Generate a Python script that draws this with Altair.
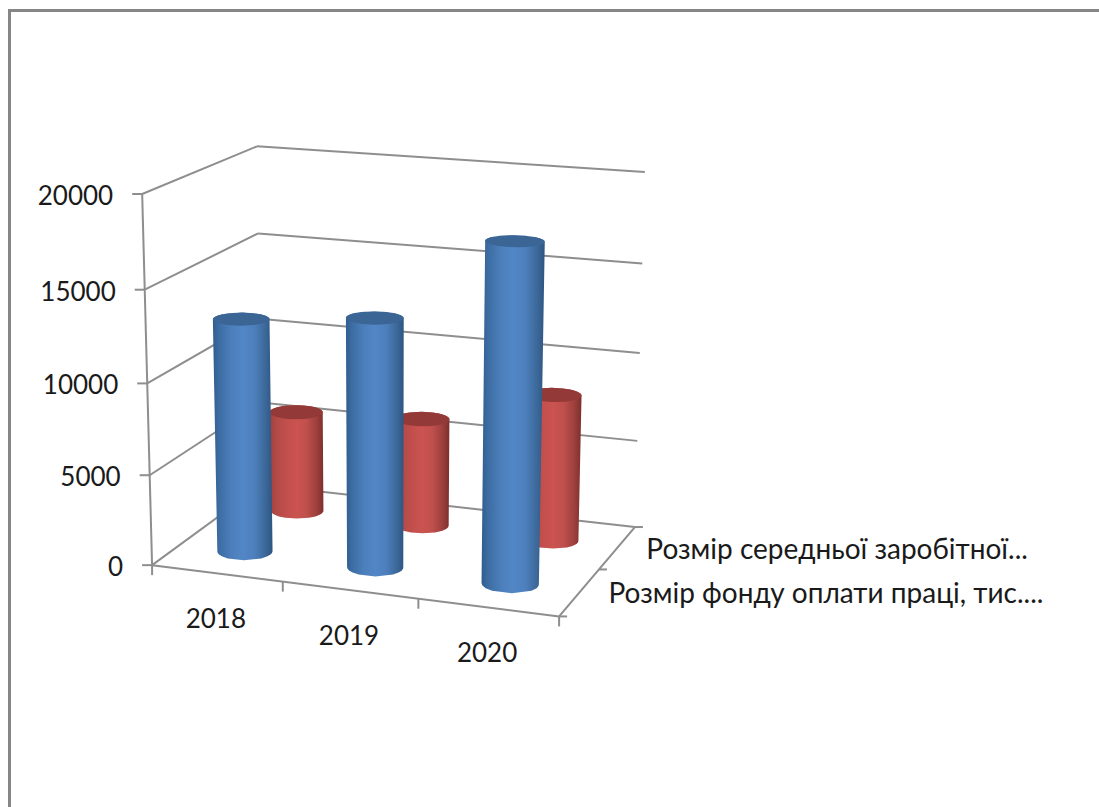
import altair as alt
import numpy as np
import pandas as pd

W, H = 1099, 807

# Chart values
years = ["2018", "2019", "2020"]
wage_fund = [12900, 13600, 18200]
avg_salary = [5800, 6150, 8250]
series_labels = ["Розмір фонду оплати праці, тис....", "Розмір середньої заробітної..."]
value_ticks = [0, 5000, 10000, 15000, 20000]
VMAX = 20000
FONT = "Lato"

# Camera: a projective map of the box (category, depth, value share) onto the page,
# solved from where the box edges should land.
box_anchors = [
    (0, 0, 0, 151, 566), (0, 0, .25, 150, 475), (0, 0, .5, 148, 382), (0, 0, .75, 146, 288), (0, 0, 1, 142, 195),
    (3, 0, 0, 558, 618),
    (0, 2, 0, 263, 486), (0, 2, .75, 258, 233), (0, 2, 1, 255, 147),
    (3, 2, 0, 634, 525), (3, 2, .25, 638, 441), (3, 2, .5, 640, 352), (3, 2, .75, 643, 265), (3, 2, 1, 645, 172),
]
rows, rhs = [], []
for a, b, c, px, py in box_anchors:
    rows.append([a, b, c, 1, 0, 0, 0, 0, -px * a, -px * b, -px * c])
    rows.append([0, 0, 0, 0, a, b, c, 1, -py * a, -py * b, -py * c])
    rhs += [px, py]
cam = np.linalg.lstsq(np.array(rows, float), np.array(rhs, float), rcond=None)[0]


def project(u, v, w):
    d = cam[8] * u + cam[9] * v + cam[10] * w + 1
    return (cam[0] * u + cam[1] * v + cam[2] * w + cam[3]) / d, (cam[4] * u + cam[5] * v + cam[6] * w + cam[7]) / d


xs = alt.X("x:Q", scale=alt.Scale(domain=[0, W], nice=False, zero=False), axis=None)
ys = alt.Y("y:Q", scale=alt.Scale(domain=[0, H], reverse=True, nice=False, zero=False), axis=None)


def segment_layer(segments, color="#8e8e8e", width=2):
    df = pd.DataFrame(segments, columns=["x", "y", "x2", "y2"])
    return alt.Chart(df).mark_rule(color=color, strokeWidth=width).encode(x=xs, y=ys, x2="x2:Q", y2="y2:Q")


def scan_outline(pts, n=70):
    """Left and right edge of a convex outline for a run of page rows."""
    pts = np.asarray(pts)
    closed = np.vstack([pts, pts[:1]])
    out = []
    for y in np.linspace(pts[:, 1].min(), pts[:, 1].max(), n):
        hits = []
        for (x0, y0), (x1, y1) in zip(closed[:-1], closed[1:]):
            if min(y0, y1) <= y <= max(y0, y1) and y0 != y1:
                hits.append(x0 + (y - y0) * (x1 - x0) / (y1 - y0))
        if hits:
            out.append((y, min(hits), max(hits)))
    return pd.DataFrame(out, columns=["y", "x", "x2"])


def convex_hull(pts):
    pts = sorted(map(tuple, pts))

    def half(seq):
        h = []
        for p in seq:
            while len(h) > 1 and (h[-1][0] - h[-2][0]) * (p[1] - h[-2][1]) - (h[-1][1] - h[-2][1]) * (p[0] - h[-2][0]) <= 0:
                h.pop()
            h.append(p)
        return h[:-1]

    return half(pts) + half(pts[::-1])


def ring(u, v, w, ru=0.2, rv=0.19, n=72):
    t = np.linspace(0, 2 * np.pi, n, endpoint=False)
    return np.array([project(u + ru * np.cos(a), v + rv * np.sin(a), w) for a in t])


def shade(stops):
    return alt.Gradient(
        gradient="linear", x1=0, x2=1, y1=0, y2=0,
        stops=[alt.GradientStop(offset=o, color=c) for o, c in stops],
    )


BLUE = [(0, "#305d8e"), (.1, "#3c6ca2"), (.3, "#4b7eba"), (.5, "#5386c6"), (.7, "#4c7fbb"), (.88, "#3c6899"), (1, "#2e5582")]
RED = [(0, "#a03f3d"), (.12, "#b24a47"), (.35, "#c4504d"), (.5, "#cb5350"), (.68, "#c0504d"), (.88, "#9c3f3c"), (1, "#7c2f2d")]


def cylinder(u, v, value, stops, cap):
    w = value / VMAX
    low, high = ring(u, v, 0), ring(u, v, w)
    body = scan_outline(convex_hull(np.vstack([low, high])), 140)
    top = scan_outline(high, 40)
    return [
        alt.Chart(body).mark_area(orient="horizontal", color=shade(stops)).encode(x=xs, y=ys, x2="x2:Q"),
        alt.Chart(top).mark_area(orient="horizontal", color=cap).encode(x=xs, y=ys, x2="x2:Q"),
    ]


def text_layer(df, align, size):
    return alt.Chart(df).mark_text(font=FONT, fontSize=size, align=align, baseline="middle", color="#1a1a1a").encode(
        x=xs, y=ys, text="label:N"
    )


layers = []

# Chart frame, open at the right and at the bottom
layers.append(alt.Chart(pd.DataFrame({"k": [0]})).mark_rule(color="#868686", strokeWidth=3).encode(
    x=alt.value(9.5), y=alt.value(9), y2=alt.value(H)))
layers.append(alt.Chart(pd.DataFrame({"k": [0]})).mark_rule(color="#868686", strokeWidth=3).encode(
    y=alt.value(10.5), x=alt.value(8), x2=alt.value(W)))

# Gridlines across the side and back walls
grid = []
for t in value_ticks:
    w = t / VMAX
    a, b, c = project(0, 0, w), project(0, 2, w), project(3, 2, w)
    grid += [(*a, *b), (*b, *c)]
layers.append(segment_layer(grid))

# Axis lines and tick marks
A, B, C = project(0, 0, 0), project(3, 0, 0), project(3, 2, 0)
axes = [(*A, *project(0, 0, 1)), (*A, *B), (*B, *C)]
for t in value_ticks:
    p = project(0, 0, t / VMAX)
    axes.append((p[0] - 10, p[1], p[0], p[1]))
for i in range(4):
    p = project(i, 0, 0)
    axes.append((p[0], p[1], p[0], p[1] + 10))
for j in range(3):
    p = project(3, j, 0)
    axes.append((p[0], p[1], p[0] + 8, p[1]))
layers.append(segment_layer(axes))

# Back row first so the front row overlaps it
for i, v in enumerate(avg_salary):
    layers += cylinder(i + .5, 1.5, v, RED, "#933a38")
for i, v in enumerate(wage_fund):
    layers += cylinder(i + .5, .5, v, BLUE, "#3b6594")

# Axis labels
value_df = pd.DataFrame(
    [{"x": project(0, 0, t / VMAX)[0] - 29, "y": project(0, 0, t / VMAX)[1] + 3, "label": str(t)} for t in value_ticks]
)
layers.append(text_layer(value_df, "right", 26))
year_df = pd.DataFrame(
    [{"x": project(i + .5, 0, 0)[0] - 1, "y": project(i + .5, 0, 0)[1] + 47, "label": y} for i, y in enumerate(years)]
)
layers.append(text_layer(year_df, "center", 26))
series_df = pd.DataFrame(
    [{"x": project(3, j + .5, 0)[0] + 29, "y": project(3, j + .5, 0)[1] + 3, "label": s} for j, s in enumerate(series_labels)]
)
layers.append(text_layer(series_df, "left", 28))

chart = alt.layer(*layers).properties(
    width=W, height=H, padding=0, autosize=alt.AutoSizeParams(type="none"), background="white"
).configure_view(stroke=None)

chart.save("out.html", embed_options={"renderer": "svg", "actions": False})
